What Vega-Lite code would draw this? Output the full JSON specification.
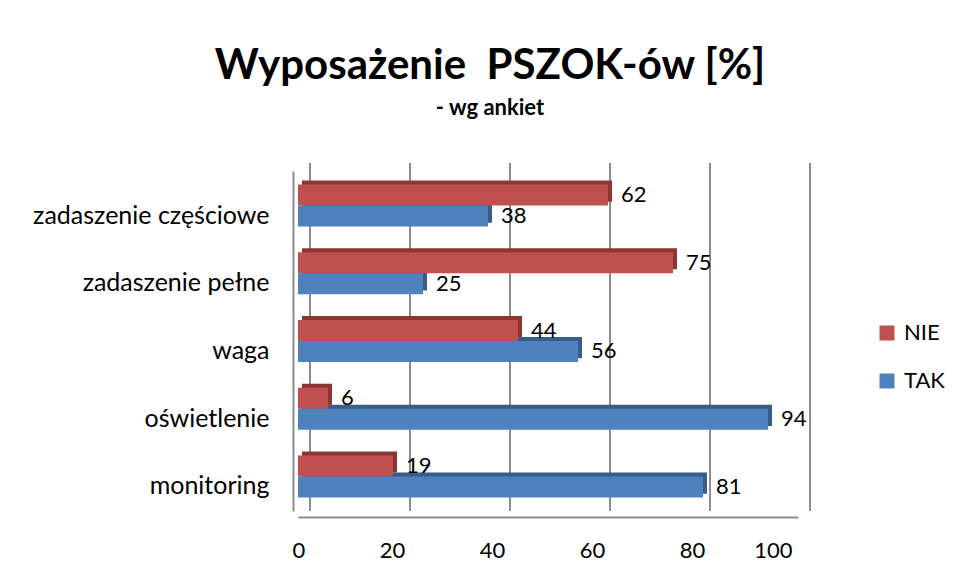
{
  "$schema": "https://vega.github.io/schema/vega-lite/v6.json",
  "width": 500,
  "height": 340,
  "autosize": "none",
  "padding": {"left": 298, "top": 171, "right": 159, "bottom": 69},
  "background": "white",
  "title": {
    "text": "Wyposażenie\u00a0 PSZOK-ów [%]",
    "subtitle": "- wg ankiet",
    "anchor": "middle",
    "frame": "group",
    "dx": -58,
    "offset": 42,
    "font": "Lato",
    "fontSize": 42,
    "fontWeight": "bold",
    "color": "#000000",
    "subtitleFont": "Lato",
    "subtitleFontSize": 22,
    "subtitleFontWeight": "bold",
    "subtitleColor": "#000000",
    "subtitlePadding": 10
  },
  "datasets": {
    "bars": [
      {"kategoria": "zadaszenie częściowe", "seria": "NIE", "wartosc": 62},
      {"kategoria": "zadaszenie częściowe", "seria": "TAK", "wartosc": 38},
      {"kategoria": "zadaszenie pełne", "seria": "NIE", "wartosc": 75},
      {"kategoria": "zadaszenie pełne", "seria": "TAK", "wartosc": 25},
      {"kategoria": "waga", "seria": "NIE", "wartosc": 44},
      {"kategoria": "waga", "seria": "TAK", "wartosc": 56},
      {"kategoria": "oświetlenie", "seria": "NIE", "wartosc": 6},
      {"kategoria": "oświetlenie", "seria": "TAK", "wartosc": 94},
      {"kategoria": "monitoring", "seria": "NIE", "wartosc": 19},
      {"kategoria": "monitoring", "seria": "TAK", "wartosc": 81}
    ],
    "grid": [{"t": 0}, {"t": 20}, {"t": 40}, {"t": 60}, {"t": 80}, {"t": 100}]
  },
  "resolve": {"scale": {"color": "independent", "yOffset": "independent"}},
  "layer": [
    {
      "data": {"name": "grid"},
      "mark": {"type": "rule", "color": "#8c8c8c", "strokeWidth": 2, "xOffset": 12, "yOffset": -8, "y2Offset": -11},
      "encoding": {
        "x": {"field": "t", "type": "quantitative", "scale": {"domain": [0, 100]}}
      }
    },
    {
      "data": {"name": "bars"},
      "mark": {"type": "bar", "xOffset": 4},
      "encoding": {
        "y": {"field": "kategoria", "type": "nominal", "sort": ["zadaszenie częściowe", "zadaszenie pełne", "waga", "oświetlenie", "monitoring"], "scale": {"paddingInner": 0.38}},
        "yOffset": {"field": "seria", "type": "nominal", "sort": ["NIE", "TAK"], "scale": {"range": [-4, 38.2]}},
        "x": {"field": "wartosc", "type": "quantitative"},
        "color": {"field": "seria", "type": "nominal", "scale": {"domain": ["NIE", "TAK"], "range": ["#8b3633", "#385d8a"]}, "legend": null}
      }
    },
    {
      "data": {"name": "bars"},
      "mark": {"type": "bar"},
      "encoding": {
        "y": {"field": "kategoria", "type": "nominal", "sort": ["zadaszenie częściowe", "zadaszenie pełne", "waga", "oświetlenie", "monitoring"],
          "axis": {"title": null, "labelFont": "Lato", "labelFontSize": 25, "labelLimit": 400, "labelColor": "#000000", "labelPadding": 24, "labelOffset": 10, "ticks": false, "domainColor": "#8c8c8c", "domainWidth": 2, "offset": 5}},
        "yOffset": {"field": "seria", "type": "nominal", "sort": ["NIE", "TAK"]},
        "x": {"field": "wartosc", "type": "quantitative", "scale": {"domain": [0, 100]},
          "axis": {"title": null, "values": [0, 20, 40, 60, 80, 100], "grid": false, "ticks": false, "labelFont": "Lato", "labelFontSize": 22, "labelColor": "#000000", "labelPadding": 23, "labelOffset": -6, "domainColor": "#8c8c8c", "domainWidth": 2, "offset": 6}},
        "color": {"field": "seria", "type": "nominal", "scale": {"domain": ["NIE", "TAK"], "range": ["#c0504d", "#4f81bd"]},
          "legend": {"title": null, "orient": "none", "legendX": 578, "legendY": 151, "symbolType": "square", "symbolSize": 225, "symbolStrokeWidth": 0, "labelFont": "Lato", "labelFontSize": 22, "labelColor": "#000000", "rowPadding": 26, "labelOffset": 6}}
      }
    },
    {
      "data": {"name": "bars"},
      "mark": {"type": "text", "align": "left", "baseline": "middle", "dx": 13, "font": "Lato", "fontSize": 22, "color": "#000000"},
      "encoding": {
        "y": {"field": "kategoria", "type": "nominal", "sort": ["zadaszenie częściowe", "zadaszenie pełne", "waga", "oświetlenie", "monitoring"]},
        "yOffset": {"field": "seria", "type": "nominal", "sort": ["NIE", "TAK"]},
        "x": {"field": "wartosc", "type": "quantitative"},
        "text": {"field": "wartosc", "type": "quantitative"}
      }
    }
  ],
  "config": {"view": {"stroke": null}}
}
